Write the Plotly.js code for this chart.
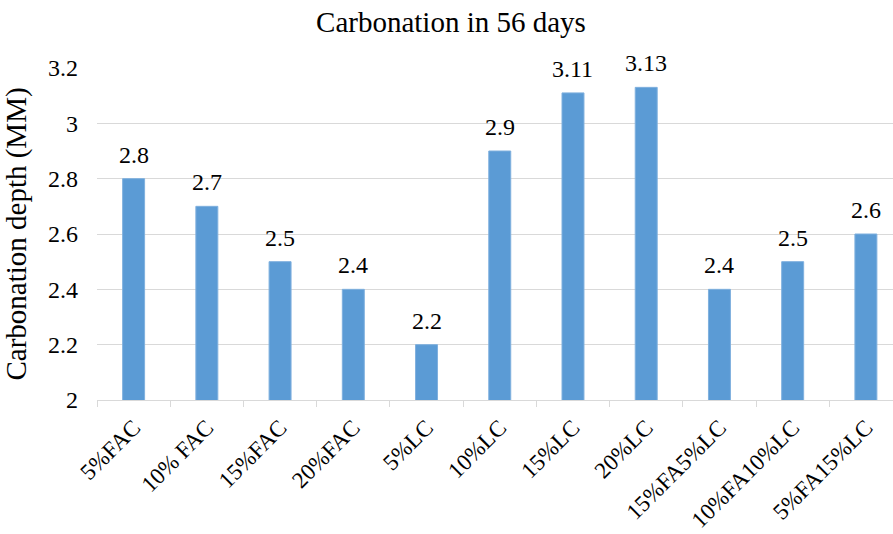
<!DOCTYPE html>
<html>
<head>
<meta charset="utf-8">
<script src="https://cdn.plot.ly/plotly-3.0.1.min.js"></script>
<style>html,body{margin:0;padding:0;background:#fff;}#chart{width:893px;height:534px;}</style>
</head>
<body>
<div id="chart"></div>
<script>
const categories = ["5%FAC","10% FAC","15%FAC","20%FAC","5%LC","10%LC","15%LC","20%LC","15%FA5%LC","10%FA10%LC","5%FA15%LC"];
const depths = [2.8,2.7,2.5,2.4,2.2,2.9,3.11,3.13,2.4,2.5,2.6];
const labels = ["2.8","2.7","2.5","2.4","2.2","2.9","3.11","3.13","2.4","2.5","2.6"];
const yTicks = [2,2.2,2.4,2.6,2.8,3,3.2];
const yTickText = ["2","2.2","2.4","2.6","2.8","3","3.2"];

const font = "Liberation Serif";
const trace = {
  type: 'bar',
  x: categories,
  y: depths,
  cliponaxis: false,
  marker: {color: '#5B9BD5', line: {color: '#7FB0DE', width: 1}},
  width: 0.3,
  hoverinfo: 'skip'
};
const annotations = categories.map((c, i) => ({
  x: c, y: depths[i], xref: 'x', yref: 'y', text: labels[i],
  showarrow: false, yanchor: 'bottom', yshift: 9,
  font: {family: font, size: 24, color: '#000'}
}));
const layout = {
  width: 893, height: 534,
  margin: {l: 97, r: 0, t: 68, b: 134},
  paper_bgcolor: '#fff', plot_bgcolor: '#fff',
  showlegend: false,
  annotations: annotations,
  title: {text: 'Carbonation in 56 days', x: 0.505, xref: 'container', y: 0.96, yref: 'container', yanchor: 'middle',
          font: {family: font, size: 29, color: '#000'}},
  xaxis: {
    type: 'category',
    range: [-0.5, 10.37],
    tickangle: -45,
    tickfont: {family: font, size: 23, color: '#000'},
    ticks: 'outside', tickson: 'boundaries', ticklen: 6, tickcolor: '#d9d9d9', tickwidth: 1,
    ticklabelstandoff: 4,
    showline: true, linecolor: '#d9d9d9', linewidth: 1,
    showgrid: false, zeroline: false
  },
  yaxis: {
    range: [2, 3.2],
    tickvals: yTicks, ticktext: yTickText,
    tickfont: {family: font, size: 24, color: '#000'},
    showgrid: true, gridcolor: '#d9d9d9', gridwidth: 1,
    zeroline: false, showline: false, ticks: '', ticklen: 0,
    ticklabelstandoff: 18,
    title: {text: 'Carbonation depth (MM)', font: {family: font, size: 29, color: '#000'}, standoff: 12}
  }
};
Plotly.newPlot('chart', [trace], layout, {displayModeBar: false, staticPlot: true});
</script>
</body>
</html>
